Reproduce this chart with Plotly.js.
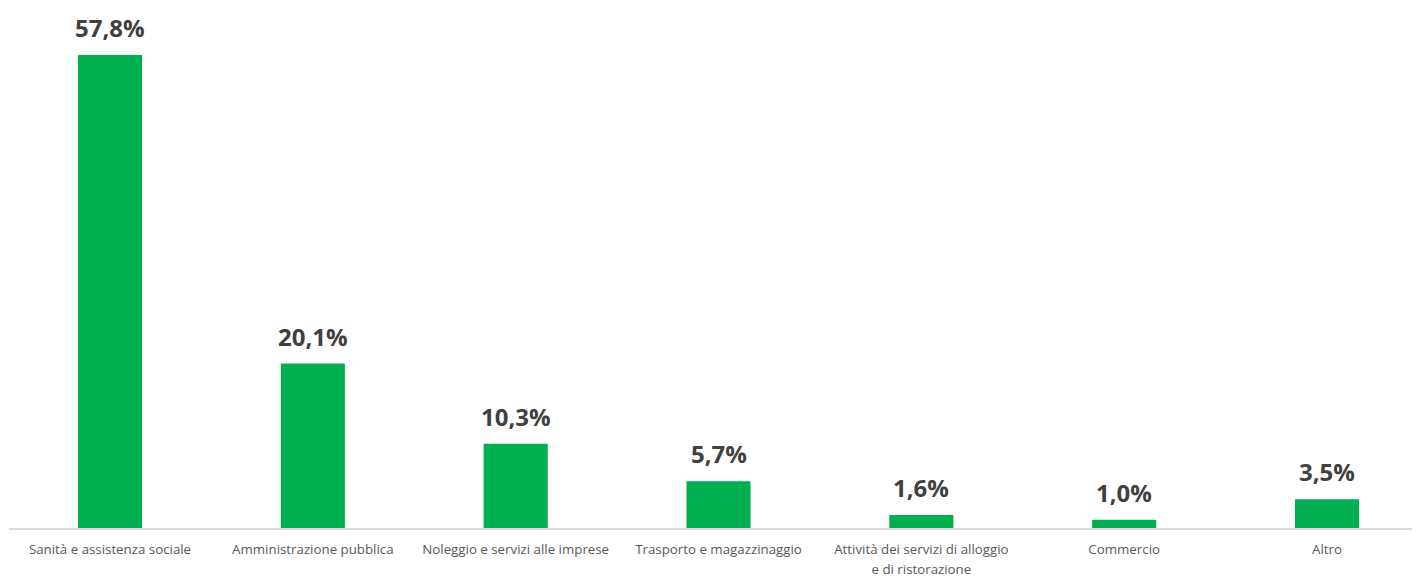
<!DOCTYPE html>
<html>
<head>
<meta charset="utf-8">
<script src="https://cdn.plot.ly/plotly-3.0.1.min.js"></script>
<style>html,body{margin:0;padding:0;background:#fff;}#chart{width:1419px;height:577px;}</style>
</head>
<body>
<div id="chart"></div>
<script>
const categories = [
  "Sanità e assistenza sociale",
  "Amministrazione pubblica",
  "Noleggio e servizi alle imprese",
  "Trasporto e magazzinaggio",
  "Attività dei servizi di alloggio<br>e di ristorazione",
  "Commercio",
  "Altro"
];
const values = [57.8, 20.1, 10.3, 5.7, 1.6, 1.0, 3.5];
const labels = values.map(v => v.toFixed(1).replace('.', ',') + '%');

const tickText = categories.map(c =>
  c.split('<br>').map(s => "<span style='font-size:13.3px'>" + s + "</span>").join('<br>')
);

const trace = {
  type: 'bar',
  x: categories,
  y: values,
  marker: {color: '#00b050'},
  hoverinfo: 'skip'
};

const annotations = categories.map((c, i) => ({
  x: c,
  y: values[i],
  xref: 'x',
  yref: 'y',
  text: labels[i],
  showarrow: false,
  yanchor: 'bottom',
  yshift: 9,
  font: {family: 'Open Sans, sans-serif', size: 24, color: '#404040', weight: 'bold'}
}));

const layout = {
  width: 1419,
  height: 577,
  margin: {l: 9, r: 7, t: 10, b: 49},
  paper_bgcolor: '#ffffff',
  plot_bgcolor: '#ffffff',
  showlegend: false,
  bargap: 0.684,
  annotations: annotations,
  xaxis: {
    type: 'category',
    range: [-0.498, 6.419],
    tickmode: 'array',
    tickvals: categories,
    ticktext: tickText,
    showline: true,
    linecolor: '#d9d9d9',
    linewidth: 1.5,
    ticks: '',
    ticklabelstandoff: 6,
    showgrid: false,
    tickfont: {family: 'Open Sans, sans-serif', size: 15.5, color: '#595959'},
    fixedrange: true
  },
  yaxis: {
    range: [0, 63.3],
    visible: false,
    showgrid: false,
    zeroline: false,
    fixedrange: true
  }
};

Plotly.newPlot('chart', [trace], layout, {displayModeBar: false, staticPlot: true});
</script>
</body>
</html>
